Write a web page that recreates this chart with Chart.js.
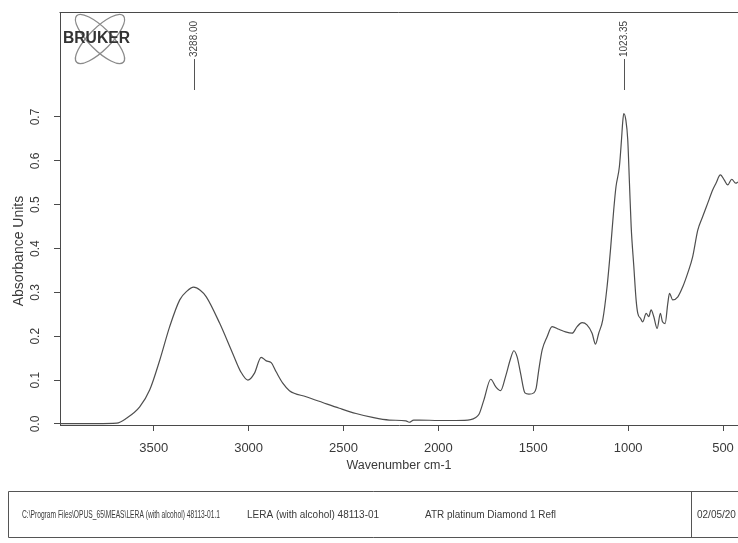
<!DOCTYPE html>
<html><head><meta charset="utf-8">
<script src="https://cdn.jsdelivr.net/npm/chart.js@4.4.1/dist/chart.umd.min.js"></script>
<style>html,body{margin:0;padding:0;background:#fff}#c{display:block}</style>
</head><body>
<canvas id="c" width="738" height="543"></canvas>
<script>
// ---- data ----
const wavenumbers = [3994,3900,3800,3695,3644,3574,3521,3468,3416,3363,3325,3290,3255,3223,3153,3085,3040,3004,
  2969,2934,2907,2881,2855,2820,2785,2697,2610,2522,2434,2347,2259,2171,2154,2130,2101,1996,1908,1830,1803,1786,
  1760,1724,1698,1672,1646,1619,1602,1585,1567,1544,1523,1497,1485,1471,1453,1427,1401,1365,1330,1295,1269,1243,
  1217,1190,1172,1155,1134,1111,1093,1076,1064,1046,1035,1029,1023,1012,1002,993,984,970,958,949,935,923,905,891,
  879,865,847,830,819,805,791,782,765,738,712,686,660,633,607,581,554,537,514,493,475,454,433,421];
const absorbance = [0.001,0.001,0.001,0.002,0.013,0.039,0.078,0.146,0.222,0.283,0.303,0.312,0.305,0.290,0.230,0.162,0.118,0.100,
  0.116,0.152,0.144,0.140,0.119,0.093,0.076,0.062,0.049,0.036,0.024,0.015,0.009,0.007,0.004,0.009,0.009,0.008,0.008,0.010,0.015,0.022,
  0.055,0.102,0.085,0.076,0.108,0.150,0.167,0.153,0.116,0.071,0.068,0.071,0.081,0.123,0.169,0.199,0.222,0.216,0.210,0.207,0.222,0.231,
  0.226,0.207,0.182,0.207,0.237,0.313,0.397,0.488,0.541,0.587,0.648,0.686,0.708,0.693,0.648,0.549,0.450,0.359,0.283,0.252,0.241,0.233,0.252,0.245,
  0.260,0.245,0.218,0.252,0.233,0.229,0.275,0.298,0.283,0.290,0.313,0.344,0.381,0.442,0.473,0.503,0.534,0.549,0.568,0.556,0.545,0.558,0.549,0.552];
const xTickValues = [3500,3000,2500,2000,1500,1000,500];
const yTickValues = [0.0,0.1,0.2,0.3,0.4,0.5,0.6,0.7];
const peakPositions = [3288.00, 1023.35];
const xTitle = 'Wavenumber cm-1';
const yTitle = 'Absorbance Units';
const logoText = 'BRUKER';
const footerTexts = ['C:\\Program Files\\OPUS_65\\MEAS\\LERA (with alcohol) 48113-01.1','LERA (with alcohol) 48113-01','ATR platinum Diamond 1 Refl','02/05/20'];

// ---- styling ----
const FONT = '"Liberation Sans", Arial, sans-serif';
const INK = '#3a3a3a';
const AXIS = '#4a4a4a';
const footerLayout = [[22,198],[247,146],[425,131],[697,60]];

const overlay = {
  id: 'overlay',
  afterDraw(chart) {
    const {ctx, chartArea: a, scales: {x}} = chart;
    ctx.save();
    ctx.strokeStyle = AXIS; ctx.lineWidth = 1;
    // top frame line
    ctx.beginPath(); ctx.moveTo(a.left - 0.5, a.top + 0.5); ctx.lineTo(a.right, a.top + 0.5); ctx.stroke();
    // peak labels
    ctx.strokeStyle = '#555';
    peakPositions.forEach(p => {
      const px = Math.round(x.getPixelForValue(p)) + 0.5;
      ctx.save();
      ctx.translate(px, 57); ctx.rotate(-Math.PI / 2);
      ctx.font = '10px ' + FONT; ctx.fillStyle = '#444';
      ctx.textAlign = 'left'; ctx.textBaseline = 'middle';
      ctx.fillText(p.toFixed(2), 0, 0);
      ctx.restore();
      ctx.beginPath(); ctx.moveTo(px, 59); ctx.lineTo(px, 90); ctx.stroke();
    });
    // y axis title
    ctx.save();
    ctx.translate(19, 251); ctx.rotate(-Math.PI / 2);
    ctx.font = '14px ' + FONT; ctx.fillStyle = INK;
    ctx.textAlign = 'center'; ctx.textBaseline = 'middle';
    ctx.fillText(yTitle, 0, 0);
    ctx.restore();
    // logo
    ctx.save();
    ctx.strokeStyle = '#8a8a8a'; ctx.lineWidth = 1.3;
    [Math.PI / 4, -Math.PI / 4].forEach(r => {
      ctx.beginPath(); ctx.ellipse(100, 39, 33, 11, r, 0, Math.PI * 2); ctx.stroke();
    });
    ctx.font = 'bold 16px ' + FONT; ctx.fillStyle = '#333';
    ctx.textAlign = 'left'; ctx.textBaseline = 'middle';
    ctx.fillText(logoText, 63, 39, 67);
    ctx.restore();
    // footer box
    ctx.strokeStyle = '#555'; ctx.lineWidth = 1;
    ctx.beginPath();
    ctx.moveTo(740, 491.5); ctx.lineTo(8.5, 491.5); ctx.lineTo(8.5, 537.5); ctx.lineTo(740, 537.5);
    ctx.moveTo(691.5, 491.5); ctx.lineTo(691.5, 537.5);
    ctx.stroke();
    ctx.font = '10px ' + FONT; ctx.fillStyle = INK;
    ctx.textAlign = 'left'; ctx.textBaseline = 'middle';
    footerTexts.forEach((t, i) => ctx.fillText(t, footerLayout[i][0], 515, footerLayout[i][1]));
    ctx.restore();
  }
};

new Chart(document.getElementById('c'), {
  type: 'line',
  data: {
    datasets: [{
      data: wavenumbers.map((w, i) => ({x: w, y: absorbance[i]})),
      borderColor: '#4e4e4e', borderWidth: 1.2, pointRadius: 0,
      cubicInterpolationMode: 'monotone', fill: false
    }]
  },
  options: {
    responsive: false, animation: false, devicePixelRatio: 1,
    layout: {padding: {left: 0, right: 0, top: 12, bottom: 70}},
    plugins: {legend: {display: false}, tooltip: {enabled: false}},
    scales: {
      x: {
        type: 'linear', reverse: true, min: 421, max: 3994,
        afterBuildTicks: s => { s.ticks = xTickValues.map(v => ({value: v})); },
        afterFit: s => { s.height = 48; s.paddingLeft = 0; s.paddingRight = 0; },
        grid: {drawOnChartArea: false, tickLength: 6, color: AXIS},
        border: {color: AXIS, width: 1},
        ticks: {font: {family: FONT, size: 13}, color: INK, padding: 10, maxRotation: 0, autoSkip: false, callback: v => String(v)},
        title: {display: true, text: xTitle, font: {family: FONT, size: 12.5}, color: INK, padding: {top: 0, bottom: 0}}
      },
      y: {
        min: -0.0023, max: 0.9394,
        afterBuildTicks: s => { s.ticks = yTickValues.map(v => ({value: v})); },
        afterFit: s => { s.width = 60; s.paddingTop = 0; s.paddingBottom = 0; },
        grid: {drawOnChartArea: false, tickLength: 6, color: AXIS},
        border: {color: AXIS, width: 1},
        ticks: {font: {family: FONT, size: 12}, color: INK, padding: 10, minRotation: 90, maxRotation: 90, crossAlign: 'center', autoSkip: false, callback: v => v.toFixed(1)}
      }
    }
  },
  plugins: [overlay]
});
</script>
</body></html>
